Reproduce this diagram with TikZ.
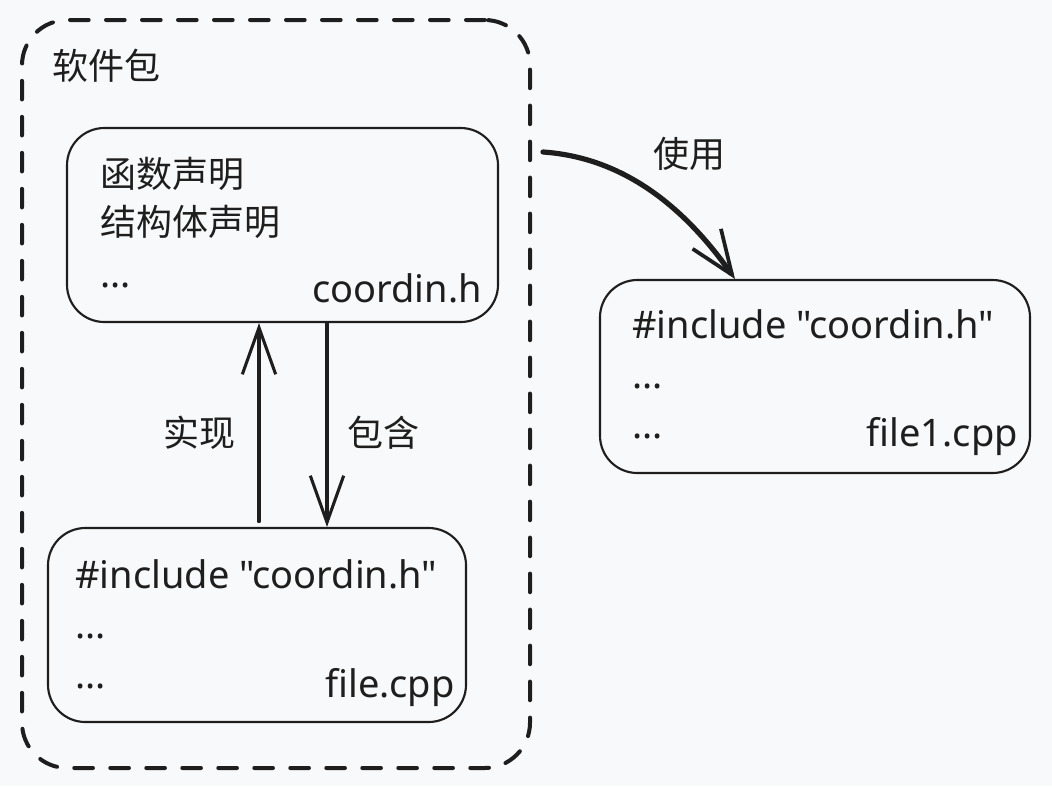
\documentclass[tikz,border=0pt]{standalone}
\usepackage{fontspec}
\setmainfont{Noto Sans CJK SC}
\newfontfamily\latfont{Noto Sans}
\usetikzlibrary{arrows.meta}
\definecolor{bg}{HTML}{F8F9FA}
\definecolor{ink}{HTML}{1E1E1E}
\begin{document}
\begin{tikzpicture}[x=0.75pt,y=-0.75pt,
  box/.style={draw=ink,line width=1.6pt,rounded corners=28pt,inner sep=0pt},
  outerbox/.style={draw=ink,line width=3pt,rounded corners=34pt,inner sep=0pt,line cap=round,dash pattern=on 14pt off 13pt},
  txt/.style={font=\fontsize{27}{32}\selectfont,text=ink,inner sep=0pt},
  lat/.style={font=\fontsize{28.5}{32}\selectfont\latfont,text=ink,inner sep=0pt},
  arr/.style={draw=ink,line width=2.3pt,line cap=round,-{Straight Barb[length=35pt,width=25pt,line width=2.3pt]}},
  curvearr/.style={draw=ink,line width=3.9pt,line cap=round,-{Straight Barb[length=33pt,width=26pt,line width=2.8pt]}}]
\fill[bg] (0,0) rectangle (1052,786);
\useasboundingbox (0,0) rectangle (1052,786);
% boxes
\node[outerbox,minimum width=381pt,minimum height=561pt] (outer) at (276,394) {};
\node[box,minimum width=323.25pt,minimum height=145.5pt] (hbox) at (282.5,225) {};
\node[box,minimum width=313.5pt,minimum height=145.5pt] (cbox) at (257,625) {};
\node[box,minimum width=322.5pt,minimum height=144.75pt] (fbox) at (815,376.5) {};
% labels
\node[txt,anchor=base west] (pkg) at (52,79) {软件包};
\node[txt,anchor=base west] (h1) at (100,187) {函数声明};
\node[txt,anchor=base west] (h2) at (100,235) {结构体声明};
\node[lat,anchor=base west] (h3) at (100,287) {...};
\node[lat,anchor=base east] (h4) at (482,302) {coordin.h};
\node[lat,anchor=base west] (c1) at (75,588) {\#include "coordin.h"};
\node[lat,anchor=base west] (c2) at (75,638) {...};
\node[lat,anchor=base west] (c3) at (75,688) {...};
\node[lat,anchor=base east] (c4) at (455,697) {file.cpp};
\node[lat,anchor=base west] (f1) at (632,338) {\#include "coordin.h"};
\node[lat,anchor=base west] (f2) at (632,388) {...};
\node[lat,anchor=base west] (f3) at (632,438) {...};
\node[lat,anchor=base east] (f4) at (1018,446) {file1.cpp};
\node[txt,anchor=base west] (limpl) at (163,446) {实现};
\node[txt,anchor=base west] (lincl) at (347,446) {包含};
\node[txt,anchor=base west] (luse) at (653,167) {使用};
% connectors
\coordinate (xu) at (259,0);
\coordinate (xd) at (327,0);
\draw[arr] ([yshift=4pt]cbox.north -| xu) -- (hbox.south -| xu);
\draw[arr] (hbox.south -| xd) -- (cbox.north -| xd);
\coordinate (ustart) at (543,152);
\coordinate (utip) at (735,279);
\draw[curvearr] (ustart) .. controls (630,158) and (690,215) .. (utip);
\end{tikzpicture}
\end{document}
